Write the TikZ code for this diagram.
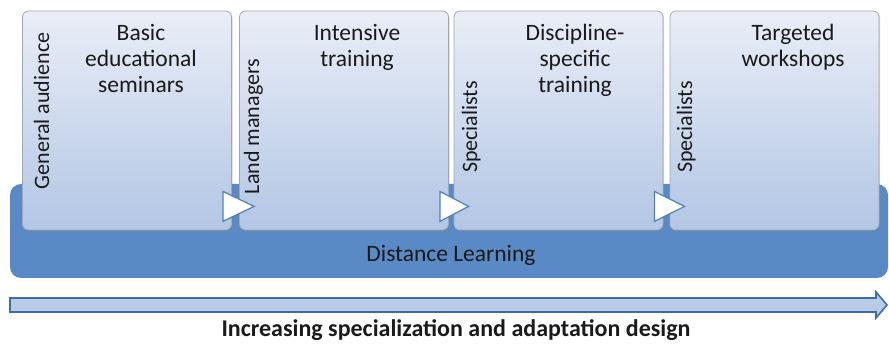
\documentclass[tikz,border=0pt]{standalone}
\usepackage{fontspec}
\setmainfont{Carlito}
\usetikzlibrary{shadows}
\definecolor{bandblue}{HTML}{5A8AC6}
\definecolor{boxtop}{HTML}{E9EEF7}
\definecolor{boxbot}{HTML}{B3C6E4}
\definecolor{boxedge}{HTML}{A3A8AF}
\definecolor{triedge}{HTML}{4F7FBE}
\definecolor{arrfill}{HTML}{B8CCE5}
\definecolor{arredge}{HTML}{3D6CAB}
\definecolor{txt}{HTML}{1A1A1A}
\tikzset{
  stagebox/.style={draw=boxedge, line width=0.8pt, rounded corners=6pt,
    top color=boxtop, bottom color=boxbot, minimum width=209pt, minimum height=219pt,
    inner sep=0pt, drop shadow={shadow xshift=1pt, shadow yshift=-1.5pt, opacity=0.35}},
  bandbox/.style={fill=bandblue, rounded corners=11pt, minimum width=878pt, minimum height=94pt, inner sep=0pt},
  stagetitle/.style={anchor=north, align=center, inner sep=0pt, text=txt,
    font=\fontsize{23.5}{26}\selectfont},
  audience/.style={rotate=90, anchor=base, inner sep=0pt, text=txt, font=\fontsize{22}{25}\selectfont},
  steptri/.style={fill=white, draw=triedge, line width=1.2pt, line join=miter},
  bandlabel/.style={anchor=base, inner sep=0pt, text=txt, font=\fontsize{23.5}{27}\selectfont},
  axisarrow/.style={fill=arrfill, draw=arredge, line width=1.6pt, line join=miter},
  axislabel/.style={anchor=base, inner sep=0pt, text=txt, font=\fontsize{24}{28}\selectfont\bfseries}
}
\begin{document}
\begin{tikzpicture}[x=1pt, y=-1pt]
\useasboundingbox (0,0) rectangle (889,344);
% band
\node[bandbox] (band) at (449,231) {};
\node[bandlabel] (dl) at (451,262) {Distance Learning};
% stage boxes
\node[stagebox] (b1) at (127,120.5) {};
\node[stagebox] (b2) at (344,120.5) {};
\node[stagebox] (b3) at (558.5,120.5) {};
\node[stagebox] (b4) at (774.5,120.5) {};
% titles
\node[stagetitle] (t1) at (141,24) {Basic\\educational\\seminars};
\node[stagetitle] (t2) at (357,24) {Intensive\\training};
\node[stagetitle] (t3) at (575,24) {Discipline-\\specific\\training};
\node[stagetitle] (t4) at (793,24) {Targeted\\workshops};
% vertical labels
\node[audience] (a1) at (49,111) {General audience};
\node[audience] (a2) at (259,126.5) {Land managers};
\node[audience] (a3) at (477,127) {Specialists};
\node[audience] (a4) at (692,127) {Specialists};
% step triangles
\foreach \p/\n in {b1/b2, b2/b3, b3/b4}{
  \coordinate (ta-\p) at ([xshift=-9pt, yshift=39pt]\p.south east);
  \coordinate (tb-\p) at ([xshift=-9pt, yshift=9pt]\p.south east);
  \coordinate (tc-\p) at ([xshift=15pt, yshift=24pt]\n.south west);
  \draw[steptri] (ta-\p) -- (tc-\p) -- (tb-\p) -- cycle;
}
% axis arrow
\coordinate (ax0) at (10,305);
\coordinate (ax1) at (887,305);
\draw[axisarrow] ([yshift=-7pt]ax0) -- ([xshift=-11pt, yshift=-7pt]ax1) -- ([xshift=-11pt, yshift=-13pt]ax1)
  -- (ax1) -- ([xshift=-11pt, yshift=13pt]ax1) -- ([xshift=-11pt, yshift=7pt]ax1) -- ([yshift=7pt]ax0) -- cycle;
\node[axislabel] (ax) at (456,337) {Increasing specialization and adaptation design};
\end{tikzpicture}
\end{document}
